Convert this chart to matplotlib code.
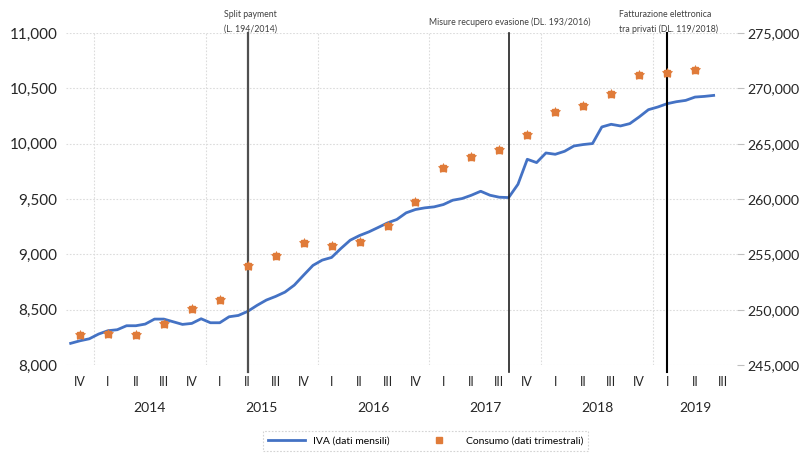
import numpy as np
import matplotlib
matplotlib.use("Agg")
import matplotlib.pyplot as plt
from matplotlib.ticker import FuncFormatter, MultipleLocator
from matplotlib.transforms import blended_transform_factory

plt.rcParams['font.family'] = ['Lato', 'DejaVu Sans']

# IVA, monthly data, Oct 2013 .. Jul 2019 (left axis)
iva_monthly = [8196, 8219, 8237, 8280, 8310, 8319, 8355, 8355, 8370, 8415,
               8415, 8391, 8367, 8376, 8418, 8382, 8382, 8436, 8448, 8485,
               8539, 8587, 8620, 8659, 8722, 8812, 8900, 8948, 8972, 9053,
               9128, 9170, 9203, 9243, 9284, 9315, 9375, 9405, 9420, 9429,
               9450, 9489, 9504, 9534, 9570, 9534, 9516, 9513, 9633, 9859,
               9829, 9916, 9904, 9931, 9979, 9992, 10001, 10151, 10175, 10160,
               10181, 10241, 10307, 10331, 10361, 10379, 10391, 10421, 10427, 10436]

# Consumo, quarterly data, Q4 2013 .. Q2 2019 (right axis)
consumo_quarterly = [247700, 247820, 247710, 248700, 250050, 250870, 253940,
                     254840, 255980, 255740, 256160, 257570, 259740, 262840,
                     263750, 264400, 265760, 267830, 268400, 269480, 271200,
                     271420, 271620]

quarter_labels = ['IV'] + ['I', 'II', 'III', 'IV'] * 5 + ['I', 'II', 'III']
years = ['2014', '2015', '2016', '2017', '2018', '2019']

# events: text lines, month index (0 = Oct 2013)
events = [(['Split payment', '(L. 194/2014)'], 19),
          (['Misure recupero evasione (DL. 193/2016)'], 47),
          (['Fatturazione elettronica', 'tra privati (DL. 119/2018)'], 64)]

fig = plt.figure(figsize=(8, 4.58), dpi=100)
ax = fig.add_axes([0.0825, 0.203, 0.8387, 0.725])
ax2 = ax.twinx()

n_months = len(quarter_labels) * 3
xm = np.arange(len(iva_monthly))
xq = 1 + 3 * np.arange(len(consumo_quarterly))

ax.set_xlim(-0.5, n_months - 0.5)
ax.set_ylim(8000, 11000)
ax2.set_ylim(245000, 275000)

grid_col = '#dcdcdc'
for v in np.arange(8000, 11001, 500):
    ax.axhline(v, color=grid_col, lw=0.8, ls=(0, (1.5, 1.5)), zorder=0)
for b in np.arange(2.5, n_months, 12):
    ax.axvline(b, color=grid_col, lw=0.8, ls=(0, (1.5, 1.5)), zorder=0)

line, = ax.plot(xm, iva_monthly, color='#4472C4', lw=2.0, zorder=3,
                label='IVA (dati mensili)')
orange = '#E07B39'
pts, = ax2.plot(xq, consumo_quarterly, ls='none', marker='s', ms=5,
                color=orange, mec=orange, zorder=4,
                label='Consumo (dati trimestrali)')
ax2.plot(xq, consumo_quarterly, ls='none', marker='*', ms=7.5,
         color=orange, mec=orange, mew=0.5, zorder=4)

ev_style = [('#505050', 1.6, -2.5), ('#202020', 1.2, -8.5), ('black', 1.5, -5.2)]
tr = blended_transform_factory(ax.transData, ax.transAxes)
for (txt, xe), (col, lw, dx) in zip(events, ev_style):
    ax.axvline(xe, ymin=-0.02, ymax=1, color=col, lw=lw, clip_on=False, zorder=5)
    if len(txt) == 2:
        ax.text(xe + dx, 1.057, txt[0], transform=tr, fontsize=6.3,
                color='#404040', ha='left', va='center')
        ax.text(xe + dx, 1.012, txt[1], transform=tr, fontsize=6.3,
                color='#404040', ha='left', va='center')
    else:
        ax.text(xe + dx, 1.033, txt[0], transform=tr, fontsize=6.3,
                color='#404040', ha='left', va='center')

for s in ax.spines.values():
    s.set_visible(False)
for s in ax2.spines.values():
    s.set_visible(False)

fmt = FuncFormatter(lambda v, p: f"{v:,.0f}")
ax.yaxis.set_major_locator(MultipleLocator(500))
ax.yaxis.set_major_formatter(fmt)
ax.tick_params(axis='y', length=0, labelsize=11, colors='#262626', pad=6)
ax2.yaxis.set_major_locator(MultipleLocator(5000))
ax2.yaxis.set_major_formatter(fmt)
ax2.tick_params(axis='y', length=5, width=0.8, labelsize=10.2,
                labelcolor='#262626', pad=2.5)
ax2.tick_params(axis='y', color='#bfbfbf')

ax.set_xticks(1 + 3 * np.arange(len(quarter_labels)))
ax.set_xticklabels(quarter_labels)
ax.tick_params(axis='x', length=0, labelsize=9, colors='#262626', pad=8)

year_centers = [8.5 + 12 * i for i in range(len(years) - 1)] + [67]
for yc, yl in zip(year_centers, years):
    ax.text(yc, -0.13, yl, transform=tr, ha='center', va='center',
            fontsize=10, color='#262626')

leg = fig.legend([line, pts], [line.get_label(), pts.get_label()],
                 loc='center', bbox_to_anchor=(0.532, 0.037), ncol=2,
                 fontsize=7.5, frameon=True, fancybox=False,
                 handlelength=3.5, columnspacing=3.0, borderpad=0.5)
leg.get_frame().set_edgecolor('#c8c8c8')
leg.get_frame().set_linestyle((0, (1.5, 1.5)))
leg.get_frame().set_linewidth(0.8)

fig.savefig('out.png', dpi=100)
